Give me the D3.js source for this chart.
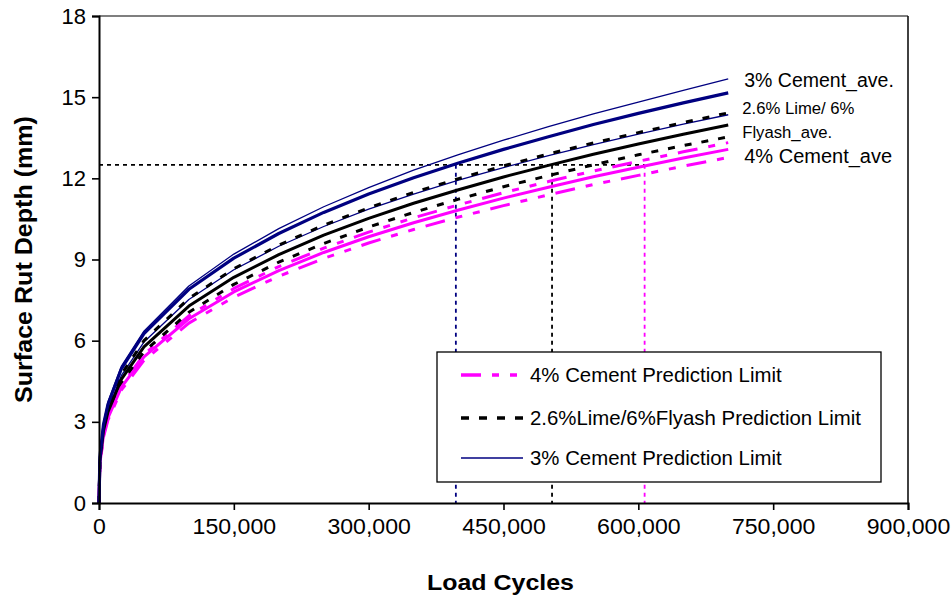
<!DOCTYPE html>
<html>
<head>
<meta charset="utf-8">
<script src="https://cdn.jsdelivr.net/npm/d3@7"></script>
<style>
  html, body { margin: 0; padding: 0; background: #fff; }
  svg { display: block; font-family: "Liberation Sans", Arial, sans-serif; }
</style>
</head>
<body>
<svg id="chart" width="951" height="597"></svg>
<script>
// Load cycles at which rut depth was sampled
const cycles = [0, 1000, 5000, 10000, 25000, 50000, 100000, 150000, 200000, 250000,
  300000, 350000, 400000, 450000, 500000, 550000, 600000, 650000, 700000];

// Surface rut depth (mm) – 3% cement
const cement3Upper = [0, 1.75, 2.98, 3.74, 5.06, 6.35, 8.02, 9.20, 10.14, 10.95, 11.66, 12.30, 12.88, 13.41, 13.91, 14.38, 14.82, 15.25, 15.68];
const cement3Ave   = [0, 1.69, 2.90, 3.65, 4.97, 6.26, 7.90, 9.05, 9.96, 10.74, 11.42, 12.02, 12.57, 13.07, 13.54, 13.99, 14.40, 14.79, 15.16];
const cement3Lower = [0, 1.58, 2.74, 3.46, 4.72, 5.95, 7.52, 8.62, 9.49, 10.22, 10.86, 11.42, 11.93, 12.40, 12.84, 13.25, 13.63, 14.00, 14.35];

// 2.6% lime / 6% flyash
const limeUpper = [0, 1.62, 2.78, 3.50, 4.76, 6.00, 7.56, 8.66, 9.53, 10.27, 10.91, 11.48, 11.99, 12.46, 12.90, 13.31, 13.69, 14.06, 14.42];
const limeAve   = [0, 1.56, 2.67, 3.37, 4.58, 5.77, 7.28, 8.34, 9.18, 9.90, 10.52, 11.08, 11.58, 12.05, 12.48, 12.89, 13.27, 13.63, 13.97];
const limeLower = [0, 1.51, 2.59, 3.26, 4.43, 5.59, 7.05, 8.08, 8.90, 9.59, 10.20, 10.74, 11.23, 11.69, 12.10, 12.50, 12.87, 13.21, 13.53];

// 4% cement
const cement4Upper = [0, 1.48, 2.54, 3.20, 4.35, 5.49, 6.92, 7.93, 8.74, 9.42, 10.01, 10.54, 11.02, 11.47, 11.88, 12.27, 12.63, 12.98, 13.32];
const cement4Ave   = [0, 1.46, 2.50, 3.15, 4.28, 5.40, 6.81, 7.80, 8.59, 9.26, 9.84, 10.36, 10.83, 11.27, 11.67, 12.06, 12.41, 12.75, 13.07];
const cement4Lower = [0, 1.42, 2.44, 3.07, 4.18, 5.27, 6.65, 7.61, 8.38, 9.04, 9.61, 10.11, 10.57, 10.99, 11.39, 11.77, 12.11, 12.45, 12.77];

// 12.5 mm rut depth reached by each average curve
const rutLimit = 12.5;
const limitCycles = [397000, 504000, 607000];

const xTicks = [0, 150000, 300000, 450000, 600000, 750000, 900000];
const yTicks = [0, 3, 6, 9, 12, 15, 18];

const legendLabels = ["4% Cement Prediction Limit", "2.6%Lime/6%Flyash Prediction Limit", "3% Cement Prediction Limit"];
const endLabels = ["3% Cement_ave.", "2.6% Lime/ 6%", "Flyash_ave.", "4% Cement_ave"];

const NAVY = "#000080", MAGENTA = "#FF00FF", BLACK = "#000000";
const DASH_MAG = "20,11,7,11,7,11";
const DASH_BLK = "7,10";

const svg = d3.select("#chart");
const plotLeft = 99, plotRight = 908, plotTop = 16, plotBottom = 503;

const x = d3.scaleLinear().domain([0, 900000]).range([plotLeft, plotRight]);
const y = d3.scaleLinear().domain([0, 18]).range([plotBottom, plotTop]);

// plot frame (top and right)
svg.append("line").attr("x1", plotLeft).attr("x2", plotRight).attr("y1", plotTop).attr("y2", plotTop)
  .attr("stroke", "#555").attr("stroke-width", 1.6);
svg.append("line").attr("x1", plotRight).attr("x2", plotRight).attr("y1", plotTop).attr("y2", plotBottom)
  .attr("stroke", "#111").attr("stroke-width", 1.6);

// 12.5 mm reference lines
svg.append("line")
  .attr("x1", x(0)).attr("x2", x(limitCycles[2]))
  .attr("y1", y(rutLimit)).attr("y2", y(rutLimit))
  .attr("stroke", BLACK).attr("stroke-width", 1.8).attr("stroke-dasharray", "4,4");
const dropColors = [NAVY, BLACK, MAGENTA];
limitCycles.forEach((c, i) => {
  svg.append("line")
    .attr("x1", x(c)).attr("x2", x(c))
    .attr("y1", y(rutLimit)).attr("y2", y(0))
    .attr("stroke", dropColors[i]).attr("stroke-width", 1.8).attr("stroke-dasharray", "4,4");
});

const line = d3.line().x(d => x(d[0])).y(d => y(d[1]));
const pts = vals => cycles.map((c, i) => [c, vals[i]]);

const series = [
  { v: cement4Lower, color: MAGENTA, w: 3, dash: DASH_MAG },
  { v: cement4Upper, color: MAGENTA, w: 3, dash: DASH_MAG },
  { v: limeLower, color: BLACK, w: 3, dash: DASH_BLK },
  { v: cement3Lower, color: NAVY, w: 1.3, dash: null },
  { v: limeUpper, color: BLACK, w: 3, dash: DASH_BLK },
  { v: cement4Ave, color: MAGENTA, w: 3, dash: null },
  { v: limeAve, color: BLACK, w: 3, dash: null },
  { v: cement3Upper, color: NAVY, w: 1.3, dash: null },
  { v: cement3Ave, color: NAVY, w: 3.2, dash: null }
];
series.forEach(s => {
  svg.append("path")
    .attr("d", line(pts(s.v)))
    .attr("fill", "none")
    .attr("stroke", s.color)
    .attr("stroke-width", s.w)
    .attr("stroke-dasharray", s.dash)
    .attr("stroke-linejoin", "round");
});

// axes
const xAxis = svg.append("g").attr("transform", `translate(0,${plotBottom})`)
  .call(d3.axisBottom(x).tickValues(xTicks).tickSize(7).tickPadding(8)
    .tickFormat(d3.format(",")));
const yAxis = svg.append("g").attr("transform", `translate(${plotLeft},0)`)
  .call(d3.axisLeft(y).tickValues(yTicks).tickSize(7).tickPadding(6));
[xAxis, yAxis].forEach(a => {
  a.select(".domain").attr("stroke", BLACK).attr("stroke-width", 2);
  a.selectAll(".tick line").attr("stroke", BLACK).attr("stroke-width", 1.6);
  a.selectAll(".tick text").attr("fill", BLACK)
    .style("font-family", '"Liberation Sans", Arial, sans-serif').style("font-size", "22px");
});
xAxis.selectAll(".tick text").attr("transform", "scale(1.05,1)");

// axis titles
const midX = (plotLeft + plotRight) / 2;
svg.append("text")
  .attr("x", midX).attr("y", 590)
  .attr("text-anchor", "middle")
  .attr("font-weight", "bold").attr("font-size", "22.5px")
  .attr("transform", `translate(${midX - 3},0) scale(1.11,1) translate(${-midX},0)`)
  .text("Load Cycles");
svg.append("text")
  .attr("transform", `translate(32,${(plotTop + plotBottom) / 2}) rotate(-90) scale(1.09,1)`)
  .attr("text-anchor", "middle")
  .attr("font-weight", "bold").attr("font-size", "23px")
  .text("Surface Rut Depth (mm)");

// end-of-curve labels
const lx = x(700000) + 16;
svg.append("text").attr("x", lx).attr("y", 87).attr("font-size", "19.5px").text(endLabels[0]);
svg.append("text").attr("x", lx - 2).attr("y", 114).attr("font-size", "16.7px").text(endLabels[1]);
svg.append("text").attr("x", lx - 2).attr("y", 138).attr("font-size", "16.7px").text(endLabels[2]);
svg.append("text").attr("x", lx).attr("y", 163).attr("font-size", "20px").text(endLabels[3]);

// legend
const lg = svg.append("g");
lg.append("rect").attr("x", 437).attr("y", 352).attr("width", 444).attr("height", 130)
  .attr("fill", "#fff").attr("stroke", BLACK).attr("stroke-width", 1.3);
const legendStyles = [
  { color: MAGENTA, w: 3.5, dash: DASH_MAG },
  { color: BLACK, w: 3.5, dash: "8,10" },
  { color: NAVY, w: 1.3, dash: null }
];
const legendY = [375, 418, 458];
legendStyles.forEach((s, i) => {
  lg.append("line").attr("x1", 461).attr("x2", 523)
    .attr("y1", legendY[i]).attr("y2", legendY[i])
    .attr("stroke", s.color).attr("stroke-width", s.w).attr("stroke-dasharray", s.dash);
  lg.append("text").attr("x", 530).attr("y", legendY[i] + 7)
    .attr("font-size", "20.4px").text(legendLabels[i]);
});
</script>
</body>
</html>
